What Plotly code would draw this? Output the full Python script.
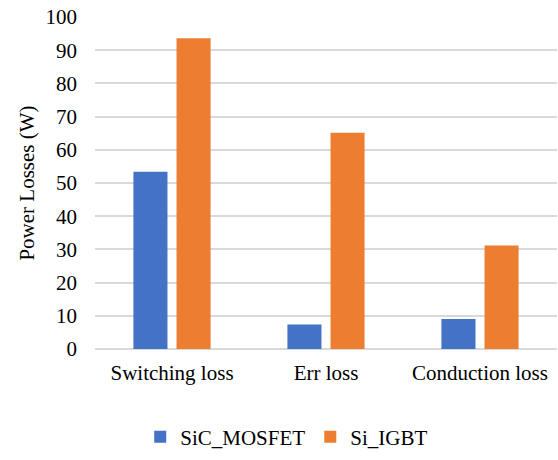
import plotly.graph_objects as go

categories = ["Switching loss", "Err loss", "Conduction loss"]
sic_mosfet = [53.4, 7.4, 9.0]
si_igbt = [93.6, 65.1, 31.2]
y_ticks = list(range(0, 101, 10))

font = "Liberation Serif"
fs = 21

fig = go.Figure()
fig.add_trace(go.Bar(name="SiC_MOSFET", x=categories, y=sic_mosfet, marker=dict(color="#4472C4", line=dict(width=0))))
fig.add_trace(go.Bar(name="Si_IGBT", x=categories, y=si_igbt, marker=dict(color="#ED7D31", line=dict(width=0))))

fig.update_layout(
    width=558, height=460,
    margin=dict(l=95, r=1, t=17, b=111),
    paper_bgcolor="white", plot_bgcolor="white",
    font=dict(family=font, size=fs, color="#000000"),
    barmode="group", bargap=0.44, bargroupgap=0.21,
    showlegend=True,
    legend=dict(orientation="h", x=0.415, xanchor="center", y=-0.265, yanchor="middle",
                font=dict(family=font, size=fs), itemwidth=30, traceorder="normal"),
    xaxis=dict(showgrid=False, showline=False, ticks="", tickfont=dict(family=font, size=fs), ticklabelstandoff=9),
    yaxis=dict(range=[0, 100], tickvals=y_ticks, showgrid=True, gridcolor="#D9D9D9", gridwidth=1.5,
               zeroline=True, zerolinecolor="#D9D9D9", zerolinewidth=1.5,
               showline=False, ticks="", ticklabelstandoff=17, tickfont=dict(family=font, size=fs),
               title=dict(text="Power Losses (W)", font=dict(family=font, size=fs), standoff=5)),
)

fig.write_html("out.html")
